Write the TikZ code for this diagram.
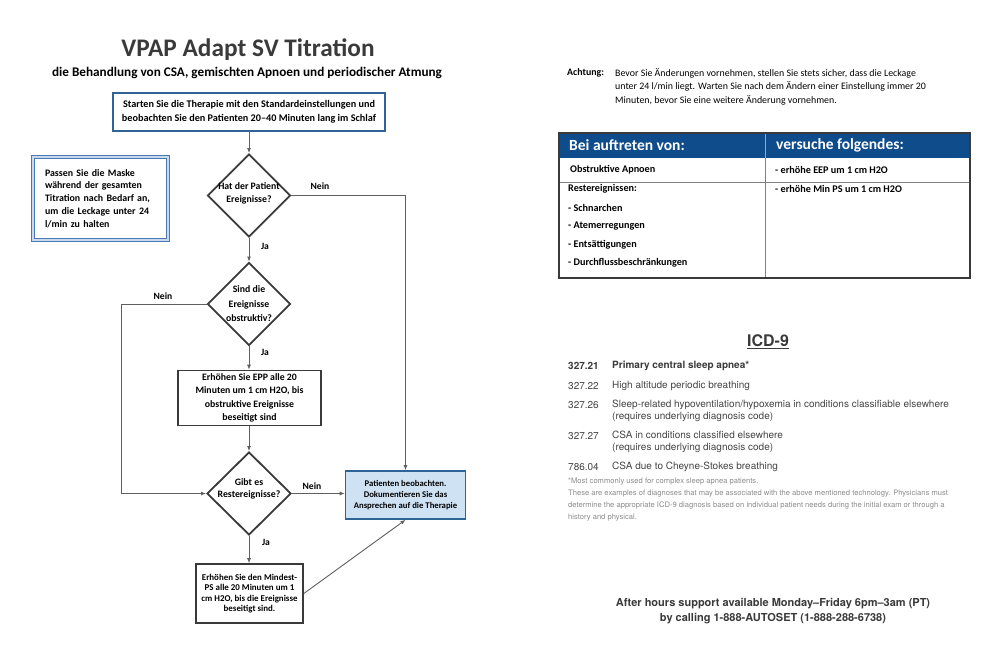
\documentclass[tikz,border=0pt]{standalone}
\usepackage{fontspec}
\setmainfont{Carlito}
\newfontfamily\helv{TeX Gyre Heros}
\usetikzlibrary{shapes.geometric,arrows.meta}
\definecolor{dgray}{HTML}{3A3A3A}
\definecolor{lgray}{HTML}{606060}
\definecolor{sblue}{HTML}{2F6496}
\definecolor{mblue}{HTML}{4A78B0}
\definecolor{mlight}{HTML}{C9DAF0}
\definecolor{pblue}{HTML}{CFE2F3}
\definecolor{hblue}{HTML}{0F4C8C}
\definecolor{fgray}{HTML}{8C8C8C}
\definecolor{igray}{HTML}{454545}
\begin{document}
\begin{tikzpicture}[x=1pt,y=-1pt,
  dia/.style={draw=dgray, line width=1.8pt, diamond, inner sep=0pt, minimum width=83pt, minimum height=83pt},
  box/.style={draw=dgray, line width=1.6pt, inner sep=0pt, align=center, font=\fontsize{9.8}{13.5}\selectfont\bfseries},
  dtxt/.style={inner sep=0pt, align=center, font=\fontsize{9.8}{13}\selectfont\bfseries},
  lbl/.style={inner sep=0pt, font=\fontsize{9.6}{11}\selectfont\bfseries},
  conn/.style={draw=lgray, line width=0.9pt, -{Latex[length=5pt,width=4pt]}},
  ttxt/.style={inner sep=0pt, anchor=west, font=\fontsize{10.2}{12}\selectfont\bfseries},
  itxt/.style={inner sep=0pt, anchor=west, text=igray, font=\helv\fontsize{10}{12}\selectfont},
  ftxt/.style={inner sep=0pt, anchor=west, text=fgray, font=\helv\fontsize{7.6}{9}\selectfont}
]
\useasboundingbox (0,0) rectangle (1000,658);
\fill[white] (0,0) rectangle (1000,658);

% titles
\node[inner sep=0pt, text=dgray, font=\fontsize{25.3}{28}\selectfont\bfseries] (title) at (248,50) {VPAP Adapt SV Titration};
\node[inner sep=0pt, font=\fontsize{13.2}{15}\selectfont\bfseries] (subtitle) at (247,73) {die Behandlung von CSA, gemischten Apnoen und periodischer Atmung};

% start box
\node[box, draw=sblue, line width=2.6pt, minimum width=272pt, minimum height=38pt, font=\fontsize{10.2}{14.5}\selectfont\bfseries] (start) at (249,112)
  {Starten Sie die Therapie mit den Standardeinstellungen und\\beobachten Sie den Patienten 20–40 Minuten lang im Schlaf};

% mask box
\node[draw=mblue, line width=1.2pt, double=mlight, double distance=1.6pt, minimum width=135pt, minimum height=83pt, inner xsep=12pt, inner ysep=0pt, text width=111pt, align=left, font=\fontsize{9.9}{12.8}\selectfont\bfseries] (mask) at (100.5,198.5)
  {Passen Sie die Maske\\während der gesamten\\Titration nach Bedarf an,\\um die Leckage unter 24\\l/min zu halten};

% diamonds
\node[dia] (d1) at (249,195.5) {};
\node[dtxt] (t1) at (249,193) {Hat der Patient\\Ereignisse?};
\node[dia] (d2) at (249,304) {};
\node[dtxt, font=\fontsize{9.8}{14.5}\selectfont\bfseries] (t2) at (249,304) {Sind die\\Ereignisse\\obstruktiv?};
\node[dia, minimum width=84pt] (d3) at (249,493.5) {};
\node[dtxt, font=\fontsize{9.8}{12}\selectfont\bfseries] (t3) at (249,489) {Gibt es\\Restereignisse?};

% boxes
\node[box, minimum width=143pt, minimum height=55pt] (epp) at (249.5,398)
  {Erhöhen Sie EPP alle 20\\Minuten um 1 cm H2O, bis\\obstruktive Ereignisse\\beseitigt sind};
\node[box, draw=sblue, fill=pblue, line width=1.6pt, minimum width=120pt, minimum height=48pt, font=\fontsize{8.7}{11}\selectfont\bfseries] (patient) at (405.5,495)
  {Patienten beobachten.\\Dokumentieren Sie das\\Ansprechen auf die Therapie};
\node[box, minimum width=107pt, minimum height=59pt, font=\fontsize{8.9}{10.4}\selectfont\bfseries] (minps) at (249.5,593.5)
  {Erhöhen Sie den Mindest-\\PS alle 20 Minuten um 1\\cm H2O, bis die Ereignisse\\beseitigt sind.};

% connectors
\draw[conn] (start) -- (d1);
\draw[conn] (d1.east) -| (patient.north);
\draw[conn] (d1) -- (d2);
\coordinate (lc) at (121,304);
\draw[conn] (d2.west) -- (lc) |- (d3.west);
\draw[conn] (d2) -- (d2 |- epp.north);
\draw[conn] (epp.south -| d3) -- (d3);
\draw[conn] (d3.east) -- (d3.east -| patient.west);
\draw[conn] (d3) -- (d3 |- minps.north);
\draw[conn] (minps.east) -- (patient.south);

% labels
\node[lbl] (n1) at (320,186) {Nein};
\node[lbl] (j1) at (265,246) {Ja};
\node[lbl] (n2) at (163,296) {Nein};
\node[lbl] (j2) at (265,352) {Ja};
\node[lbl] (n3) at (312,486) {Nein};
\node[lbl] (j3) at (266,542) {Ja};

% Achtung
\node[inner sep=0pt, anchor=north west, font=\fontsize{9.9}{12}\selectfont\bfseries] (acht) at (567,68) {Achtung:};
\node[inner sep=0pt, anchor=north west, align=left, font=\fontsize{9.9}{13.6}\selectfont] (achttext) at (615,68)
  {Bevor Sie Änderungen vornehmen, stellen Sie stets sicher, dass die Leckage\\unter 24 l/min liegt. Warten Sie nach dem Ändern einer Einstellung immer 20\\Minuten, bevor Sie eine weitere Änderung vornehmen.};

% table
\fill[hblue] (559,133) rectangle (970,158);
\draw[gray, line width=0.6pt] (559,182) -- (970,182);
\draw[gray, line width=0.6pt] (765,158) -- (765,278);
\draw[gray!70, line width=0.6pt] (765,133) -- (765,158);
\draw[dgray, line width=1.4pt] (559,133) rectangle (970,278);
\node[inner sep=0pt, anchor=west, text=white, font=\fontsize{15.5}{17}\selectfont\bfseries] (h1) at (569,145.5) {Bei auftreten von:};
\node[inner sep=0pt, anchor=west, text=white, font=\fontsize{15.5}{17}\selectfont\bfseries] (h2) at (776,145.5) {versuche folgendes:};
\node[ttxt] (r1a) at (570,170) {Obstruktive Apnoen};
\node[ttxt] (r1b) at (775,170) {- erhöhe EEP um 1 cm H2O};
\node[ttxt] (r2a) at (568,189) {Restereignissen:};
\node[ttxt] (r2b) at (568,207.5) {- Schnarchen};
\node[ttxt] (r2c) at (568,226) {- Atemerregungen};
\node[ttxt] (r2d) at (568,244.5) {- Entsättigungen};
\node[ttxt] (r2e) at (568,263) {- Durchflussbeschränkungen};
\node[ttxt] (r2f) at (775,189) {- erhöhe Min PS um 1 cm H2O};

% ICD-9
\node[inner sep=0pt, text=dgray, font=\helv\fontsize{16}{18}\selectfont\bfseries] (icd) at (768,342) {\underline{ICD-9}};
\node[itxt, text=dgray, font=\helv\fontsize{10}{12}\selectfont\bfseries] (c1) at (568,366) {327.21};
\node[itxt, text=dgray, font=\helv\fontsize{10}{12}\selectfont\bfseries] (e1) at (612,366) {Primary central sleep apnea*};
\node[itxt] (c2) at (568,386) {327.22};
\node[itxt] (e2) at (612,386) {High altitude periodic breathing};
\node[itxt] (c3) at (568,405.5) {327.26};
\node[itxt, anchor=north west, align=left, font=\helv\fontsize{10}{12.5}\selectfont] (e3) at (612,399.5) {Sleep-related hypoventilation/hypoxemia in conditions classifiable elsewhere\\(requires underlying diagnosis code)};
\node[itxt] (c4) at (568,436.5) {327.27};
\node[itxt, anchor=north west, align=left, font=\helv\fontsize{10}{12.5}\selectfont] (e4) at (612,430.5) {CSA in conditions classified elsewhere\\(requires underlying diagnosis code)};
\node[itxt] (c5) at (568,467) {786.04};
\node[itxt] (e5) at (612,467) {CSA due to Cheyne-Stokes breathing};
\node[ftxt, anchor=north west, align=left, font=\helv\fontsize{7.6}{12}\selectfont] (foot) at (568,477.5)
  {*Most commonly used for complex sleep apnea patients.\\These are examples of diagnoses that may be associated with the above mentioned technology. Physicians must\\determine the appropriate ICD-9 diagnosis based on individual patient needs during the initial exam or through a\\history and physical.};

% after hours
\node[inner sep=0pt, align=center, text=dgray, font=\helv\fontsize{11}{15.5}\selectfont\bfseries] (after) at (773,611)
  {After hours support available Monday–Friday 6pm–3am (PT)\\by calling 1-888-AUTOSET (1-888-288-6738)};
\end{tikzpicture}
\end{document}
